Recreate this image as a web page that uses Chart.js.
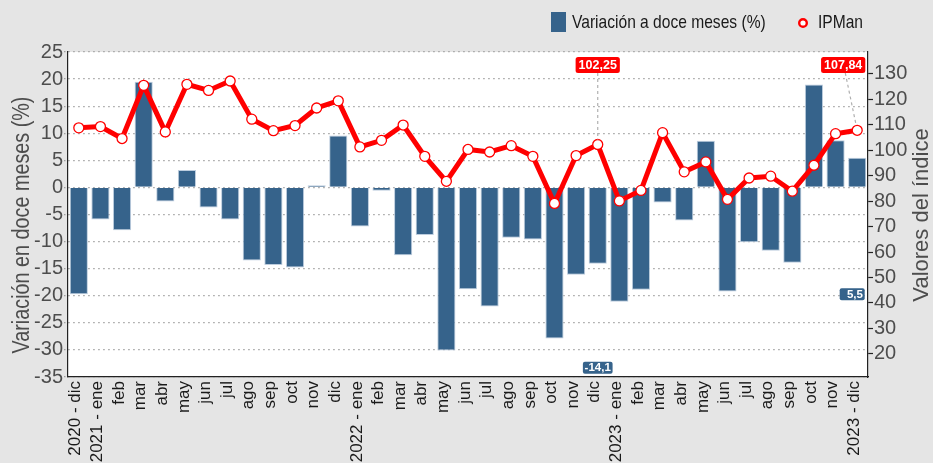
<!DOCTYPE html>
<html>
<head>
<meta charset="utf-8">
<script src="https://cdn.jsdelivr.net/npm/chart.js@4.4.1/dist/chart.umd.min.js"></script>
<style>
html,body{margin:0;padding:0;background:#e5e5e5;}
canvas{display:block;}
</style>
</head>
<body>
<canvas id="c" width="933" height="463"></canvas>
<script>
// ---- data ----
const months = ['2020 - dic','2021 - ene','feb','mar','abr','may','jun','jul','ago','sep','oct','nov','dic',
  '2022 - ene','feb','mar','abr','may','jun','jul','ago','sep','oct','nov','dic',
  '2023 - ene','feb','mar','abr','may','jun','jul','ago','sep','oct','nov','2023 - dic'];
const variacion = [-19.7,-5.9,-7.9,19.5,-2.6,3.2,-3.7,-5.9,-13.5,-14.3,-14.8,0.4,9.6,
  -7.2,-0.6,-12.5,-8.8,-30.1,-18.8,-22.0,-9.3,-9.6,-27.9,-16.1,-14.1,
  -21.1,-18.9,-2.8,-6.1,8.6,-19.2,-10.1,-11.7,-13.9,19.0,8.7,5.5];
const ipman = [108.8,109.3,104.6,125.5,107.2,125.9,123.5,127.2,112.2,107.7,109.7,116.6,119.4,
  101.3,103.9,109.9,97.6,87.8,100.3,99.3,101.8,97.6,79.1,97.9,102.25,
  80.1,84.2,106.9,91.5,95.4,80.7,89.1,89.8,83.9,94.1,106.5,107.84];
const leftTicks = [-35,-30,-25,-20,-15,-10,-5,0,5,10,15,20,25];
const rightTicks = [20,30,40,50,60,70,80,90,100,110,120,130];
const seriesNames = ['Variación a doce meses (%)','IPMan'];
const axisTitles = ['Variación en doce meses (%)','Valores del índice'];

// ---- style ----
const FONT = '"Liberation Sans", Arial, sans-serif';
const BAR = '#36638b';
const RED = '#ff0000';
const GREY_TXT = '#4d4d4d';

// labels placed on the chart: which series/index, and where (left-axis units)
const callouts = [
  {series:1, index:24, kind:'red', dx:0, yAt:22.6, leader:true},
  {series:1, index:36, kind:'red', dx:-14, yAt:22.6, leader:true},
  {series:0, index:24, kind:'blue', dx:0, yAt:-33.3, minW:0},
  {series:0, index:36, kind:'blue', dx:-5, yAt:-19.7, minW:25}
];

function fmt(v, dec){ return v.toFixed(dec).replace('.', ','); }

function roundRect(ctx,x,y,w,h,r){
  ctx.beginPath();
  ctx.moveTo(x+r,y); ctx.lineTo(x+w-r,y); ctx.quadraticCurveTo(x+w,y,x+w,y+r);
  ctx.lineTo(x+w,y+h-r); ctx.quadraticCurveTo(x+w,y+h,x+w-r,y+h);
  ctx.lineTo(x+r,y+h); ctx.quadraticCurveTo(x,y+h,x,y+h-r);
  ctx.lineTo(x,y+r); ctx.quadraticCurveTo(x,y,x+r,y); ctx.closePath();
}

function narrowText(ctx, text, x, y, size, color){
  ctx.save();
  ctx.font = size + 'px ' + FONT;
  ctx.fillStyle = color; ctx.textBaseline = 'middle'; ctx.textAlign = 'left';
  ctx.translate(x, y); ctx.scale(0.82, 1);
  ctx.fillText(text, 0, 0);
  ctx.restore();
}

const bgPlugin = {
  id: 'bg',
  beforeDraw(chart){
    const {ctx, chartArea:a} = chart;
    ctx.save();
    ctx.fillStyle = '#e5e5e5'; ctx.fillRect(0,0,chart.width,chart.height);
    ctx.fillStyle = '#ffffff'; ctx.fillRect(a.left,a.top,a.right-a.left,a.bottom-a.top);
    ctx.restore();
  }
};

const decoPlugin = {
  id: 'deco',
  afterDatasetsDraw(chart){
    const {ctx} = chart;
    const xs = chart.scales.x, yl = chart.scales.y, yr = chart.scales.y2;
    callouts.forEach(c => {
      const val = c.series === 0 ? variacion[c.index] : ipman[c.index];
      const text = c.series === 0 ? fmt(val,1) : fmt(val,2);
      const cx = xs.getPixelForValue(c.index) + c.dx;
      const cy = yl.getPixelForValue(c.yAt);
      ctx.save();
      if (c.kind === 'red') {
        ctx.font = 'bold 12.5px ' + FONT;
        const w = ctx.measureText(text).width + 6, h = 16;
        if (c.leader) {
          const px = xs.getPixelForValue(c.index), py = yr.getPixelForValue(val);
          const sx = cx + (px - cx) * 0.15, sy = cy + h/2;
          const dx = px - sx, dy = py - sy, L = Math.hypot(dx,dy);
          ctx.strokeStyle = '#b0b0b0'; ctx.lineWidth = 1.2; ctx.setLineDash([3,3]);
          ctx.beginPath(); ctx.moveTo(sx, sy); ctx.lineTo(px - dx/L*5, py - dy/L*5); ctx.stroke();
          ctx.setLineDash([]);
        }
        ctx.fillStyle = RED;
        roundRect(ctx, cx - w/2, cy - h/2, w, h, 2.5); ctx.fill();
        ctx.fillStyle = '#fff'; ctx.textAlign = 'center'; ctx.textBaseline = 'middle';
        ctx.fillText(text, cx, cy + 0.5);
      } else {
        ctx.font = 'bold 11.5px ' + FONT;
        const tw = ctx.measureText(text).width;
        const w = Math.max(tw + 3.5, c.minW || 0), h = 12;
        ctx.fillStyle = BAR;
        roundRect(ctx, cx - w/2, cy - h/2, w, h, 2); ctx.fill();
        ctx.fillStyle = '#fff'; ctx.textAlign = 'right'; ctx.textBaseline = 'middle';
        ctx.fillText(text, cx + w/2 - 1.8, cy + 0.5);
      }
      ctx.restore();
    });
  },
  afterDraw(chart){
    const {ctx} = chart;
    // axis titles (both read bottom-to-top)
    ctx.save();
    ctx.font = '23px ' + FONT; ctx.fillStyle = GREY_TXT;
    ctx.textAlign = 'center'; ctx.textBaseline = 'middle';
    ctx.translate(23, 225); ctx.rotate(-Math.PI/2); ctx.scale(0.86, 1);
    ctx.fillText(axisTitles[0], 0, 0);
    ctx.restore();
    ctx.save();
    ctx.font = '22px ' + FONT; ctx.fillStyle = GREY_TXT;
    ctx.textAlign = 'center'; ctx.textBaseline = 'middle';
    ctx.translate(922, 215); ctx.rotate(-Math.PI/2); ctx.fillText(axisTitles[1], 0, 0);
    ctx.restore();
    // legend
    ctx.save();
    ctx.fillStyle = BAR; ctx.fillRect(551, 12, 15, 20);
    narrowText(ctx, seriesNames[0], 572, 22.5, 19, '#1a1a1a');
    ctx.beginPath(); ctx.arc(803, 23, 3.8, 0, Math.PI*2);
    ctx.fillStyle = '#fff'; ctx.fill();
    ctx.strokeStyle = RED; ctx.lineWidth = 2.4; ctx.stroke();
    narrowText(ctx, seriesNames[1], 818, 22.5, 19, '#1a1a1a');
    ctx.restore();
  }
};

new Chart(document.getElementById('c'), {
  data: {
    labels: months,
    datasets: [
      {
        type: 'bar', label: seriesNames[0], data: variacion, yAxisID: 'y', order: 1,
        backgroundColor: BAR, borderColor: 'rgba(185,202,220,0.95)', borderWidth: 1,
        barPercentage: 0.84, categoryPercentage: 1
      },
      {
        type: 'line', label: seriesNames[1], data: ipman, yAxisID: 'y2', order: 0,
        borderColor: RED, borderWidth: 5, tension: 0,
        pointRadius: 5, pointBorderWidth: 1.3, pointBackgroundColor: '#fff', pointBorderColor: RED
      }
    ]
  },
  options: {
    responsive: false, animation: false, devicePixelRatio: 1,
    layout: { padding: { top: 52, left: 0, right: 0, bottom: 0 } },
    plugins: { legend: { display: false }, tooltip: { enabled: false } },
    scales: {
      x: {
        type: 'category', offset: true,
        grid: { display: true, drawOnChartArea: false, drawTicks: false },
        border: { display: true, color: '#222', width: 1.2 },
        ticks: { autoSkip: false, maxRotation: 90, minRotation: 90, padding: 4, labelOffset: -3,
                 color: '#1a1a1a', font: { family: FONT, size: 17 } },
        afterFit(s){ s.height = 86; }
      },
      y: {
        position: 'left', min: -35, max: 25,
        afterBuildTicks(s){ s.ticks = leftTicks.map(v => ({value: v})); },
        grid: { color: '#a0a0a0', lineWidth: 1.2, drawTicks: true, tickLength: 4,
                tickColor: '#a0a0a0', tickBorderDash: [1.5, 3] },
        border: { display: true, color: '#222', width: 1.2, dash: [1.5, 3.5] },
        ticks: { color: GREY_TXT, font: { family: FONT, size: 20 }, padding: 1 },
        afterFit(s){ s.width = 68; }
      },
      y2: {
        position: 'right', min: 10.9, max: 138.6,
        afterBuildTicks(s){ s.ticks = rightTicks.map(v => ({value: v})); },
        grid: { drawOnChartArea: false, drawTicks: true, tickLength: 5, tickColor: '#222', tickWidth: 1.2 },
        border: { display: true, color: '#222', width: 1.2 },
        ticks: { color: GREY_TXT, font: { family: FONT, size: 20 }, padding: 1 },
        afterFit(s){ s.width = 65; }
      }
    }
  },
  plugins: [bgPlugin, decoPlugin]
});
</script>
</body>
</html>
